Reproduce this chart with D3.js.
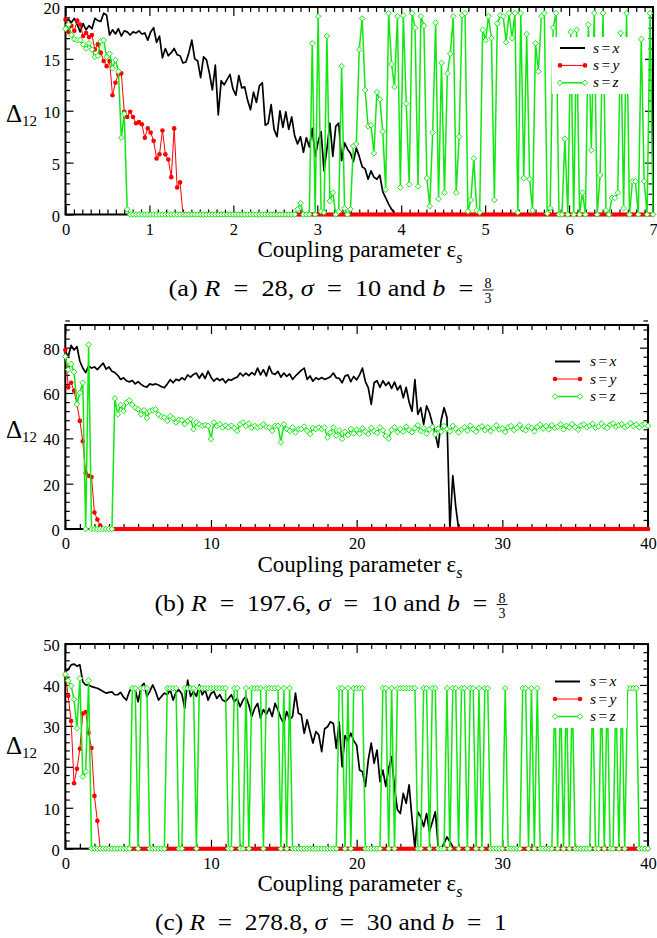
<!DOCTYPE html>
<html lang="en">
<head>
<meta charset="UTF-8">
<title>Delta12 vs coupling parameter</title>
<script src="https://d3js.org/d3.v7.min.js"></script>
<style>
  body { margin: 0; background: #fff; }
  svg text { font-family: "Liberation Serif", "Times New Roman", serif; fill: #000; }
</style>
</head>
<body>
<svg id="chart" width="657" height="938"></svg>
<script>
// ---------------- data ----------------
// every series is sampled on a regular grid of 201 points
const stepA = 0.035;   // 0 .. 7
const stepB = 0.2;     // 0 .. 40
const stepC = 0.2;     // 0 .. 40

const seriesNames = ["s=x", "s=y", "s=z"];

const aXTicks = [0, 1, 2, 3, 4, 5, 6, 7];
const aYTicks = [0, 5, 10, 15, 20];
const bXTicks = [0, 10, 20, 30, 40];
const bYTicks = [0, 20, 40, 60, 80];
const cXTicks = [0, 10, 20, 30, 40];
const cYTicks = [0, 10, 20, 30, 40, 50];

// (a) R = 28, sigma = 10, b = 8/3
const aBlack = [
  18.6,18.8,18.5,18.9,18.3,17.6,18.4,17.8,18.2,17.9,
  18.9,18.7,18.6,19.4,19.2,17.3,17.8,17.4,17.9,17.2,
  17.7,17.6,17.3,17.6,17.5,17.7,17.4,17.5,16.8,17.6,
  18.0,16.6,17.2,15.1,16.0,15.3,15.6,16.0,15.4,15.3,
  14.6,14.7,15.6,16.8,15.0,14.8,13.2,15.2,14.9,13.6,
  12.0,14.4,9.6,12.9,12.5,13.0,13.5,12.1,11.5,13.4,
  12.2,12.3,11.0,10.1,11.8,10.8,12.4,12.7,8.6,8.8,
  10.6,8.2,7.5,10.0,8.4,9.9,8.2,9.4,7.6,6.8,
  7.5,6.0,7.4,6.5,8.3,5.6,7.0,8.0,4.2,6.3,
  8.8,5.6,8.5,8.8,5.2,6.9,6.3,5.9,5.1,6.4,
  5.6,4.6,4.4,3.4,4.2,3.6,3.4,3.8,2.2,1.6,
  1.0,0.5,0.2
];
const aRed = [
  18.8,17.6,18.2,17.7,18.7,18.3,17.2,17.5,17.1,17.3,
  15.9,16.4,15.6,14.8,14.3,14.8,11.5,12.7,13.5,13.6,
  9.9,9.4,9.9,9.4,8.8,8.9,8.7,7.4,8.3,7.9,
  7.1,5.4,5.8,8.1,5.8,5.3,3.6,8.3,2.6,3.1,
  0,0,0,0,0,0,0,0,0,0, 0,0,0,0,0,0,0,0,0,0,
  0,0,0,0,0,0,0,0,0,0, 0,0,0,0,0,0,0,0,0,0,
  0,0,0,0,0,0,0,0,0,0, 0,0,0,0,0,0,0,0,0,0,
  0,0,0,0,0,0,0,0,0,0, 0,0,0,0,0,0,0,0,0,0,
  0,0,0,0,0,0,0,0,0,0, 0,0,0,0,0,0,0,0,0,0,
  0,0,0,0,0,0,0,0,0,0, 0,0,0,0,0,0,0,0,0,0,
  0,0,0,0,0,0,0,0,0,0, 0,0,0,0,0,0,0,0,0,0,
  0,0,0,0,0,0,0,0,0,0, 0,0,0,0,0,0,0,0,0,0,
  0
];
const aGreen = [
  17.9,18.3,17.3,16.9,16.8,16.8,16.4,16.0,16.5,15.9,
  15.2,15.3,16.7,16.8,15.2,15.5,14.1,14.9,13.8,7.4,
  9.7,0.5,0,0,0,0,0,0,0,0,
  0,0,0,0,0,0,0,0,0,0,
  0,0,0,0,0,0,0,0,0,0,
  0,0,0,0,0,0,0,0,0,0,
  0,0,0,0,0,0,0,0,0,0,
  0,0,0,0,0,0,0,0,0,0.5,
  1.1,0,0,0,16.5,0,19.1,0.3,0.2,17.2,
  1.3,2.1,0,0.3,14.3,0.6,0,0.5,6.6,6.8,
  15.9,18.9,12.0,8.5,8.6,5.9,11.8,11.1,8.0,2.4,
  19.4,14.5,12.3,19.1,2.6,19.2,10.7,2.9,19.4,18.0,
  2.7,19.1,18.2,3.5,0.8,7.9,18.5,1.5,14.6,2.1,
  13.6,15.5,19.1,2.1,7.5,19.2,19.4,0.3,1.4,5.4,
  0.4,0.2,17.8,16.8,19.1,17.0,1.4,18.4,19.2,19.1,
  16.6,19.4,17.0,19.4,0.2,19.4,3.5,17.4,3.4,0.4,
  16.5,13.8,19.1,19.4,0.1,0.6,18.0,19.4,0,0,
  7.3,0,17.6,0,17.8,0,2.1,0,18.3,6.2,
  19.4,0,3.8,19.4,0.4,0,1.6,1.6,2.1,17.5,
  0.6,19.4,0,3.2,3.2,0,16.9,3.2,0,19.4,
  0
];

// (b) R = 197.6, sigma = 10, b = 8/3
const bBlack = [
  78.5,76,81,79,80.5,74,71,69,72,71,
  71.5,70.3,71.8,73.2,70.5,71.5,69.6,69,67.8,66,
  66.7,65.4,64.9,65.5,64,65,63.8,63,62.6,64,
  63.6,64,63.5,62.8,62.3,64,65.9,64.5,66,65.5,
  66.7,65.8,68,67,68.2,68.8,66.5,68.6,66.4,69.6,
  67,65.2,66.5,65.5,66.3,64.5,66,65.6,66.5,67,
  68.8,67.5,68.8,67.7,69,68,71,68,70.3,67.5,
  71.8,68.7,68.2,69.5,67,68.8,67.3,68.4,66,67.5,
  68.8,70,71,66,67.5,65.2,66.7,66,66.8,66,
  66.5,67.2,68.8,66.7,66.5,64.5,67.5,68,65,67.3,
  65.8,68,71,65,62.3,55,64.5,65.4,62.5,65.4,
  63.3,64.8,62,64.8,61.3,63.3,57.9,62.5,56,52,
  65.9,50.6,53.5,46.2,54.3,51.3,46.5,42,36,48,
  53.5,49.2,0,23.6,10,0
];
const bRed = [
  79,62.5,64.5,61,55,47.7,38.7,24.7,23.5,22.9,
  7.3,4.2,1.5,0,0,0,0,0,0,0,
  0,0,0,0,0,0,0,0,0,0, 0,0,0,0,0,0,0,0,0,0,
  0,0,0,0,0,0,0,0,0,0, 0,0,0,0,0,0,0,0,0,0,
  0,0,0,0,0,0,0,0,0,0, 0,0,0,0,0,0,0,0,0,0,
  0,0,0,0,0,0,0,0,0,0, 0,0,0,0,0,0,0,0,0,0,
  0,0,0,0,0,0,0,0,0,0, 0,0,0,0,0,0,0,0,0,0,
  0,0,0,0,0,0,0,0,0,0, 0,0,0,0,0,0,0,0,0,0,
  0,0,0,0,0,0,0,0,0,0, 0,0,0,0,0,0,0,0,0,0,
  0,0,0,0,0,0,0,0,0,0, 0,0,0,0,0,0,0,0,0,0,
  0,0,0,0,0,0,0,0,0,0, 0,0,0,0,0,0,0,0,0,0,
  0
];
const bGreen = [
  76.1,70.3,72.8,69.3,55,60.1,64.5,0,81.3,0,
  0,0,0,0,0,0,0,57.6,50.6,54.7,
  52,55.7,56.7,54.8,53.5,52.8,50.6,52.4,49,52,
  52.4,52.8,50.5,49.5,49.2,47.7,49.8,48.8,47,48.2,
  48,46.3,47.6,48.5,44,47,46.2,45.5,45.8,45.5,
  39.7,47,45.5,46.2,44.8,45.6,44.8,45.6,44.6,43.3,
  46.2,47,45.5,46.5,44.8,45.5,44.8,45.2,46.2,45,
  44.8,43.3,45.5,45.5,38.2,46.2,44.1,43.3,44.8,42.6,
  44.1,44.1,45.2,43.3,41.9,44.5,44.1,44.8,44.1,44.8,
  40.4,42.5,44.8,41.2,43.5,39.8,42.9,41.5,44.1,42.2,
  43.8,42.0,44.5,43.0,41.9,44.6,43.2,42.4,44.8,43.5,
  41.0,39.9,43.7,44.9,42.8,44.1,43.0,45.2,43.6,42.7,
  44.4,45.8,43.2,44.5,42.1,43.9,45.0,41.8,44.3,42.9,
  45.4,44.0,43.1,45.5,44.2,42.6,43.8,44.9,43.4,45.6,
  44.0,42.9,44.7,45.3,43.6,44.8,43.2,44.5,45.7,43.9,
  44.4,42.8,44.9,45.4,43.7,44.6,45.9,44.1,43.5,45.2,
  44.7,43.1,45.0,46.0,44.3,45.4,43.9,45.8,44.6,45.1,
  46.2,44.0,45.5,44.8,46.3,45.0,43.8,45.7,46.1,44.9,
  45.6,46.4,44.7,45.3,46.5,45.2,44.6,46.0,46.6,45.1,
  45.8,46.3,44.9,45.6,46.7,45.4,46.1,44.8,45.9,46.4,
  45.5
];

// (c) R = 278.8, sigma = 30, b = 1
const cBlack = [
  43.3,43.7,44.9,45.1,44.6,44.9,40.8,40,40,39.6,
  39.4,39.2,38.8,38.4,38,38.2,38.3,37.6,37.6,38.2,
  37,36.3,38.4,39.6,38.8,35.9,39.6,40.4,37.2,38.4,
  40,38.4,36.3,37.2,38,37.6,38.8,36.3,38.2,38.8,
  37.8,34.3,41.2,37.2,38.4,37.2,40,37.6,38.8,36.3,
  37.9,38.4,36.7,37.6,36.3,35.9,36.7,37.6,35.9,36.7,
  34.7,36.3,37.2,35.1,32.3,34.3,35.5,31.9,34,32.8,
  34.3,32.3,35.5,33.9,31.9,30.6,33.5,31.5,32.3,38,
  33.1,32.7,28.2,31.5,28.6,25.8,28.6,27.8,23.7,29.3,
  29.8,31,30.6,24.5,31,20,27.6,26.4,28.2,26.4,
  25.3,19.2,18.8,15.2,21.7,25.8,20.9,24.1,16.4,19.2,
  15.2,19.6,22.5,14.8,9.5,8.6,13.5,11.1,15.6,7.4,
  0,9,7.8,5.4,8.6,4.2,6.6,9,0.5,0,
  1.3,2.9,1.7,0.5,0
];
const cRed = [
  42.5,37.3,31.2,16,19.5,24.4,33,33.4,28.3,24.6,
  12.9,6.8,0,0,0,0,0,0,0,0,
  0,0,0,0,0,0,0,0,0,0, 0,0,0,0,0,0,0,0,0,0,
  0,0,0,0,0,0,0,0,0,0, 0,0,0,0,0,0,0,0,0,0,
  0,0,0,0,0,0,0,0,0,0, 0,0,0,0,0,0,0,0,0,0,
  0,0,0,0,0,0,0,0,0,0, 0,0,0,0,0,0,0,0,0,0,
  0,0,0,0,0,0,0,0,0,0, 0,0,0,0,0,0,0,0,0,0,
  0,0,0,0,0,0,0,0,0,0, 0,0,0,0,0,0,0,0,0,0,
  0,0,0,0,0,0,0,0,0,0, 0,0,0,0,0,0,0,0,0,0,
  0,0,0,0,0,0,0,0,0,0, 0,0,0,0,0,0,0,0,0,0,
  0,0,0,0,0,0,0,0,0,0, 0,0,0,0,0,0,0,0,0,0,
  0
];
const cGreen = [
  42.6,41.0,39.8,36.5,29.4,41.6,17.6,18.8,41.1,0,
  0,0,0,0,0,0,0,0,0,0,
  0,0,0,39.2,39.2,0,39.2,39.2,39.2,0,
  0,0,0,0,0,39.2,39.2,39.2,39.2,0,
  0,39.2,39.2,39.2,39.2,0,39.2,39.2,39.2,39.2,
  39.2,39.2,39.2,39.2,39.2,39.2,0,0,39.2,39.2,
  0,0,39.2,0,39.2,39.2,39.2,39.2,0,39.2,
  39.2,39.2,39.2,39.2,0,39.2,0,39.2,0,0,
  0,0,0,0,0,0,0,0,0,0,
  0,0,0,0,39.2,39.2,0,39.2,0,39.2,
  39.2,39.2,39.2,0,0,0,0,0,0,39.2,
  39.2,0,39.2,0,39.2,39.2,39.2,39.2,39.2,39.2,
  39.2,0,0,39.2,39.2,0,39.2,39.2,0,0,
  0,39.2,0,39.2,39.2,0,39.2,39.2,0,39.2,
  39.2,0,39.2,0,39.2,39.2,0,0,0,0,
  0,39.2,0,0,0,0,0,39.2,39.2,0,
  39.2,0,39.2,0,0,0,0,0,39.2,0,
  39.2,0,39.2,0,39.2,0,0,0,0,0,
  0,39.2,0,0,39.2,0,39.2,0,0,39.2,
  0,39.2,0,39.2,39.2,39.2,39.2,0,0,0,
  0
];

// ---------------- layout ----------------
const svg = d3.select("#chart");
const GREEN = "#10e810", RED = "#ff0000";

const panels = [
  { xMax: 7, yMax: 20, step: stepA, xTicks: aXTicks, yTicks: aYTicks, xMinor: 0.1, yMinor: 1,
    left: 65.5, right: 653, top: 7, bottom: 214.5, ylabY: 122,
    black: aBlack, red: aRed, green: aGreen,
    legend: { x0: 552, x1: 637, y0: 37, y1: 94, rows: [48, 65.4, 82.8], lx0: 560, lx1: 585, tx: 593 },
    cap: { label: "(a)", r: "28", s: "10", frac: ["8", "3"], w: 305 } },
  { xMax: 40, yMax: 90, step: stepB, xTicks: bXTicks, yTicks: bYTicks, xMinor: 1, yMinor: 4,
    left: 65.3, right: 648, top: 325, bottom: 529, ylabY: 438,
    black: bBlack, red: bRed, green: bGreen,
    legend: { x0: 548, x1: 630, y0: 349, y1: 408, rows: [361.5, 379, 396.5], lx0: 555, lx1: 580, tx: 590 },
    cap: { label: "(b)", r: "197.6", s: "10", frac: ["8", "3"], w: 333 } },
  { xMax: 40, yMax: 50, step: stepC, xTicks: cXTicks, yTicks: cYTicks, xMinor: 1, yMinor: 2,
    left: 65.3, right: 648, top: 644, bottom: 848.7, ylabY: 754,
    black: cBlack, red: cRed, green: cGreen,
    legend: { x0: 550, x1: 627, y0: 672, y1: 728, rows: [681.5, 699, 716.5], lx0: 555, lx1: 580, tx: 590 },
    cap: { label: "(c)", r: "278.8", s: "30", b: "1", w: 352 } }
];

function diamond(sel, r) {
  sel.attr("d", `M0,${-r}L${r},0L0,${r}L${-r},0Z`)
    .attr("fill", "#fff").attr("stroke", GREEN).attr("stroke-width", 1);
}

function minorTicks(max, step, majors) {
  const n = Math.round(max / step);
  return d3.range(n + 1).map(k => +(k * step).toFixed(4)).filter(v => !majors.includes(v));
}

function drawPanel(p) {
  const x = d3.scaleLinear().domain([0, p.xMax]).range([p.left, p.right]);
  const y = d3.scaleLinear().domain([0, p.yMax]).range([p.bottom, p.top]);
  const g = svg.append("g");
  const mx = minorTicks(p.xMax, p.xMinor, p.xTicks);
  const my = minorTicks(p.yMax, p.yMinor, p.yTicks);

  const axes = [
    [d3.axisBottom(x).tickValues(p.xTicks).tickSize(-9).tickPadding(8.5).tickFormat(d3.format("d")), `0,${p.bottom}`],
    [d3.axisBottom(x).tickValues(mx).tickSize(-5).tickFormat(""), `0,${p.bottom}`],
    [d3.axisTop(x).tickValues(p.xTicks).tickSize(-9).tickFormat(""), `0,${p.top}`],
    [d3.axisTop(x).tickValues(mx).tickSize(-5).tickFormat(""), `0,${p.top}`],
    [d3.axisLeft(y).tickValues(p.yTicks).tickSize(-8).tickPadding(5.5).tickFormat(d3.format("d")), `${p.left},0`],
    [d3.axisLeft(y).tickValues(my).tickSize(-4.5).tickFormat(""), `${p.left},0`],
    [d3.axisRight(y).tickValues(p.yTicks).tickSize(-8).tickFormat(""), `${p.right},0`],
    [d3.axisRight(y).tickValues(my).tickSize(-4.5).tickFormat(""), `${p.right},0`]
  ];
  axes.forEach(([ax, tr], k) => {
    const a = g.append("g").attr("transform", `translate(${tr})`).call(ax)
      .attr("font-size", 16.5).attr("font-family", null);
    a.select(".domain").remove();
    a.selectAll("line").attr("stroke-width", 1.2);
    if (k === 4) a.selectAll("text").attr("dy", "0.4em");
  });

  g.append("rect").attr("x", p.left).attr("y", p.top)
    .attr("width", p.right - p.left).attr("height", p.bottom - p.top)
    .attr("fill", "none").attr("stroke", "#000").attr("stroke-width", 2);

  const line = d3.line().x((d, i) => x(i * p.step)).y(d => y(d));

  g.append("path").datum(p.black).attr("d", line)
    .attr("fill", "none").attr("stroke", "#000").attr("stroke-width", 1.7).attr("stroke-linejoin", "round");

  g.append("path").datum(p.red).attr("d", line)
    .attr("fill", "none").attr("stroke", RED).attr("stroke-width", 1);
  g.append("g").selectAll("circle").data(p.red).join("circle")
    .attr("cx", (d, i) => x(i * p.step)).attr("cy", d => y(d)).attr("r", 2.3).attr("fill", RED);

  g.append("path").datum(p.green).attr("d", line)
    .attr("fill", "none").attr("stroke", GREEN).attr("stroke-width", 1.5).attr("stroke-linejoin", "round");
  g.append("g").selectAll("path").data(p.green).join("path")
    .attr("transform", (d, i) => `translate(${x(i * p.step)},${y(d)})`)
    .call(diamond, 2.8);

  // legend
  const L = p.legend;
  g.append("rect").attr("x", L.x0).attr("y", L.y0).attr("width", L.x1 - L.x0).attr("height", L.y1 - L.y0).attr("fill", "#fff");
  g.append("line").attr("x1", L.lx0).attr("x2", L.lx1).attr("y1", L.rows[0]).attr("y2", L.rows[0])
    .attr("stroke", "#000").attr("stroke-width", 2);
  g.append("line").attr("x1", L.lx0).attr("x2", L.lx1).attr("y1", L.rows[1]).attr("y2", L.rows[1])
    .attr("stroke", RED).attr("stroke-width", 1);
  g.append("g").selectAll("circle").data([L.lx0, L.lx1]).join("circle")
    .attr("cx", d => d).attr("cy", L.rows[1]).attr("r", 2.3).attr("fill", RED);
  g.append("line").attr("x1", L.lx0).attr("x2", L.lx1).attr("y1", L.rows[2]).attr("y2", L.rows[2])
    .attr("stroke", GREEN).attr("stroke-width", 1.5);
  g.append("g").selectAll("path").data([L.lx0, L.lx1]).join("path")
    .attr("transform", d => `translate(${d},${L.rows[2]})`).call(diamond, 2.8);
  g.append("g").selectAll("text").data(seriesNames).join("text")
    .attr("x", L.tx).attr("y", (d, i) => L.rows[i] + 4.5)
    .attr("font-size", 15.5).attr("letter-spacing", 1.5).attr("font-style", "italic").text(d => d);

  // y label
  const yl = g.append("text").attr("x", 6).attr("y", p.ylabY);
  yl.append("tspan").attr("font-size", 25).text("Δ");
  yl.append("tspan").attr("font-size", 15).attr("dy", 4).text("12");

  // x label
  const xl = g.append("text").attr("x", 360).attr("y", p.bottom + 42.5)
    .attr("text-anchor", "middle").attr("font-size", 23);
  xl.append("tspan").text("Coupling parameter ε");
  xl.append("tspan").attr("font-size", 16).attr("font-style", "italic").attr("dy", 6).text("s");

  drawCaption(p.cap, p.bottom + 81.5);
}

function drawCaption(c, base) {
  const g = svg.append("g");
  const sp = "\u2002";
  const t = g.append("text").attr("x", 0).attr("y", 0).attr("font-size", 23).style("white-space", "pre");
  const parts = [[c.label + " "], ["R", 1], [sp + "=" + sp + c.r + ", "], ["σ", 1], [sp + "=" + sp + c.s + " and "], ["b", 1],
    [sp + "=" + (c.b ? sp + c.b : "")]];
  parts.forEach(([s, it]) => t.append("tspan").attr("font-style", it ? "italic" : "normal").text(s));
  // stretch horizontally a little to match the wider TeX glyphs
  const natural = t.node().getComputedTextLength();
  t.attr("transform", `translate(0,${base}) scale(${c.w / natural},1)`);
  let total = c.w;
  if (c.frac) {
    const fx = c.w + 9;
    g.append("text").attr("x", fx + 5.5).attr("y", base - 8).attr("font-size", 14).attr("text-anchor", "middle").text(c.frac[0]);
    g.append("line").attr("x1", fx).attr("x2", fx + 11).attr("y1", base - 6).attr("y2", base - 6)
      .attr("stroke", "#000").attr("stroke-width", 0.9);
    g.append("text").attr("x", fx + 5.5).attr("y", base + 7).attr("font-size", 14).attr("text-anchor", "middle").text(c.frac[1]);
    total = fx + 11;
  }
  g.attr("transform", `translate(${331 - total / 2},0)`);
}

panels.forEach(drawPanel);
</script>
</body>
</html>
